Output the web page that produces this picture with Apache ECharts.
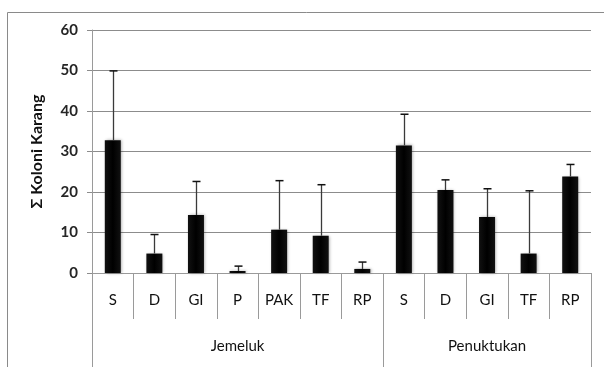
<!DOCTYPE html>
<html>
<head>
<meta charset="utf-8">
<script src="https://cdn.jsdelivr.net/npm/echarts@6/dist/echarts.min.js"></script>
<style>
html,body{margin:0;padding:0;background:#fff;}
#c{width:604px;height:367px;}
</style>
</head>
<body>
<div id="c"></div>
<script>
var categories = ['S','D','GI','P','PAK','TF','RP','S','D','GI','TF','RP'];
var groups = ['Jemeluk','Penuktukan'];
var groupSizes = [7,5];
var means = [32.8, 4.8, 14.3, 0.5, 10.7, 9.2, 1.0, 31.5, 20.5, 13.8, 4.8, 23.8];
var errors = [17.1, 4.7, 8.3, 1.2, 12.1, 12.6, 1.7, 7.7, 2.5, 7.0, 15.5, 3.0];
var yTicks = [0, 10, 20, 30, 40, 50, 60];

var FONT = 'Lato, "Open Sans", sans-serif';
var chart = echarts.init(document.getElementById('c'));

var bounds = [0];
groupSizes.forEach(function(s){ bounds.push(bounds[bounds.length-1] + s); });
var centers = [];
for (var g = 0; g < groupSizes.length; g++) centers.push((bounds[g] + bounds[g+1]) / 2);

var errData = means.map(function(m, i){ return [i, m, m + errors[i]]; });

chart.setOption({
  animation: false,
  backgroundColor: '#fff',
  graphic: [{
    type: 'rect', shape: {x: 7.5, y: 12.5, width: 700, height: 500},
    style: {fill: 'none', stroke: '#8a8a8a', lineWidth: 1}, silent: true, z: -1
  }],
  grid: {left: 92, right: 13, top: 30, bottom: 94},
  xAxis: [{
    type: 'category',
    data: categories,
    axisLine: {show: true, lineStyle: {color: '#9a9a9a', width: 1}},
    axisTick: {show: true, interval: 0, length: 46, lineStyle: {color: '#9a9a9a'}},
    axisLabel: {interval: 0, margin: 20, fontFamily: FONT, fontSize: 15, color: '#111'}
  }, {
    type: 'value', min: 0, max: categories.length, position: 'bottom',
    axisLine: {show: false},
    splitLine: {show: false},
    axisTick: {show: true, customValues: bounds, length: 96, lineStyle: {color: '#9a9a9a'}},
    axisLabel: {
      customValues: centers, margin: 66, fontFamily: FONT, fontSize: 15, color: '#111',
      formatter: function(v){ var i = centers.indexOf(v); return i >= 0 ? groups[i] : ''; }
    }
  }],
  yAxis: {
    type: 'value', min: 0, max: 60, interval: 10,
    name: 'Σ Koloni Karang', nameLocation: 'middle', nameGap: 47,
    nameTextStyle: {fontFamily: FONT, fontSize: 16, fontWeight: 'bold', color: '#111'},
    axisLine: {show: true, lineStyle: {color: '#9a9a9a'}},
    axisTick: {show: true, length: 5, lineStyle: {color: '#8c8c8c'}},
    axisLabel: {margin: 14, fontFamily: FONT, fontSize: 15, fontWeight: 'bold', color: '#262626',
      formatter: function(v){ return yTicks.indexOf(v) >= 0 ? String(v) : ''; }},
    splitLine: {show: true, lineStyle: {color: '#8c8c8c', width: 1}}
  },
  series: [{
    type: 'bar', data: means, barWidth: 16, xAxisIndex: 0,
    itemStyle: {
      color: new echarts.graphic.LinearGradient(0, 0, 1, 0, [
        {offset: 0, color: '#111'}, {offset: 0.5, color: '#000'}, {offset: 1, color: '#111'}
      ]),
      shadowColor: 'rgba(0,0,0,0.35)', shadowBlur: 3, shadowOffsetX: 1, shadowOffsetY: 0
    },
    z: 2
  }, {
    type: 'custom', xAxisIndex: 0, data: errData, z: 3,
    renderItem: function(params, api){
      var lo = api.coord([api.value(0), api.value(1)]);
      var hi = api.coord([api.value(0), api.value(2)]);
      var x = Math.round(lo[0]) + 0.5;
      return {type: 'group', children: [
        {type: 'line', shape: {x1: x, y1: lo[1], x2: x, y2: hi[1]}, style: {stroke: '#3a3a3a', lineWidth: 1.3}},
        {type: 'line', shape: {x1: x - 4, y1: hi[1], x2: x + 4, y2: hi[1]}, style: {stroke: '#111', lineWidth: 1.5}}
      ]};
    }
  }]
});
</script>
</body>
</html>
